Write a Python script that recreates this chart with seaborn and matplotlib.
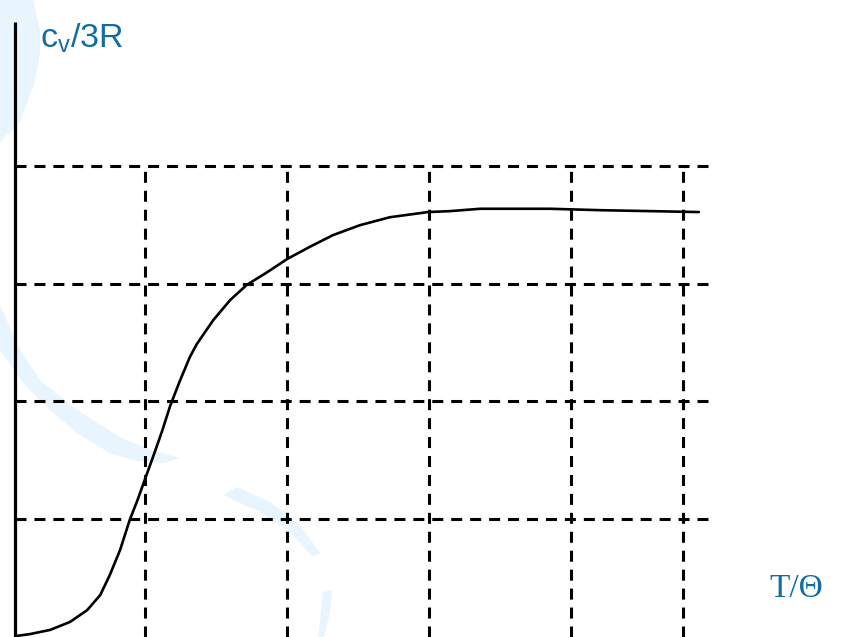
import matplotlib
matplotlib.use("Agg")
import matplotlib.pyplot as plt
from matplotlib.patches import Polygon
import pandas as pd
import seaborn as sns

# Reduced temperature T/Θ and reduced heat capacity c_v/3R
t_theta = [0.002, 0.026, 0.062, 0.097, 0.127, 0.150, 0.167, 0.185, 0.202, 0.215,
           0.229, 0.243, 0.259, 0.273, 0.290, 0.308, 0.320, 0.349, 0.379, 0.408,
           0.444, 0.479, 0.519, 0.560, 0.607, 0.660, 0.727, 0.766, 0.819, 0.942,
           1.030, 1.118, 1.204]
cv_3r = [0.000, 0.004, 0.013, 0.030, 0.055, 0.087, 0.130, 0.183, 0.247, 0.287,
         0.334, 0.381, 0.436, 0.489, 0.542, 0.594, 0.621, 0.672, 0.715, 0.747,
         0.774, 0.802, 0.828, 0.853, 0.874, 0.891, 0.902, 0.904, 0.909, 0.909,
         0.906, 0.904, 0.902]

# Dashed reference grid
grid_y = [0.25, 0.50, 0.75, 1.00]
grid_x = [0.229, 0.479, 0.729, 0.979, 1.176]

y_label = r"c$_\mathregular{v}$/3R"
x_label = "T/Θ"

sns.set_theme(style="white")
plt.rcParams["font.family"] = ["Liberation Sans", "DejaVu Sans"]

W, H = 844, 637
fig = plt.figure(figsize=(W / 100, H / 100), dpi=100)
fig.patch.set_facecolor("white")
ax = fig.add_axes([0, 0, 1, 1])
ax.set_xlim(-15 / 568, (W - 15) / 568)
ax.set_ylim(-1 / 470, 636 / 470)
ax.axis("off")

# faint background swooshes (figure pixel coordinates, origin top-left)
wm = "#E8F5FE"
shapes = [
    [(0, 0), (33, 0), (40, 30), (40, 53), (35, 81), (20, 122), (0, 142)],
    [(0, 305), (20, 350), (40, 380), (77, 410), (120, 437), (150, 450), (180, 458),
     (163, 463), (137, 461), (110, 453), (77, 433), (50, 410), (25, 385), (0, 350)],
    [(223, 495), (237, 487), (270, 502), (300, 525), (320, 553),
     (312, 556), (290, 532), (260, 512)],
    [(323, 592), (332, 590), (330, 612), (324, 637), (318, 637), (321, 612)],
]
for pts in shapes:
    xy = [(px / W, 1 - py / H) for px, py in pts]
    ax.add_patch(Polygon(xy, closed=True, transform=fig.transFigure,
                         facecolor=wm, edgecolor="none", zorder=0))

dash = dict(color="black", linewidth=2.2, linestyle=(0, (3.6, 2.6)), zorder=2)
ax.hlines(grid_y, 0, (713 - 15) / 568, **dash)
ax.vlines(grid_x, -1 / 470, max(grid_y), **dash)

# vertical axis line
ax.plot([0, 0], [-1 / 470, (636 - 22) / 470], color="black", linewidth=2.3,
        solid_capstyle="butt", zorder=3)

df = pd.DataFrame({"t": t_theta, "c": cv_3r})
sns.lineplot(data=df, x="t", y="c", ax=ax, color="black", linewidth=1.9,
             sort=False, zorder=4)
ax.lines[-1].set_solid_joinstyle("round")

blue = "#136CA3"
fig.text(40 / W, 1 - 47 / H, y_label, color=blue, fontsize=24.5,
         ha="left", va="baseline")
fig.text(769 / W, 1 - 597 / H, x_label, color=blue, fontsize=24,
         family=["Liberation Serif", "DejaVu Serif"], ha="left", va="baseline")

fig.savefig("out.png", dpi=100, facecolor="white")
